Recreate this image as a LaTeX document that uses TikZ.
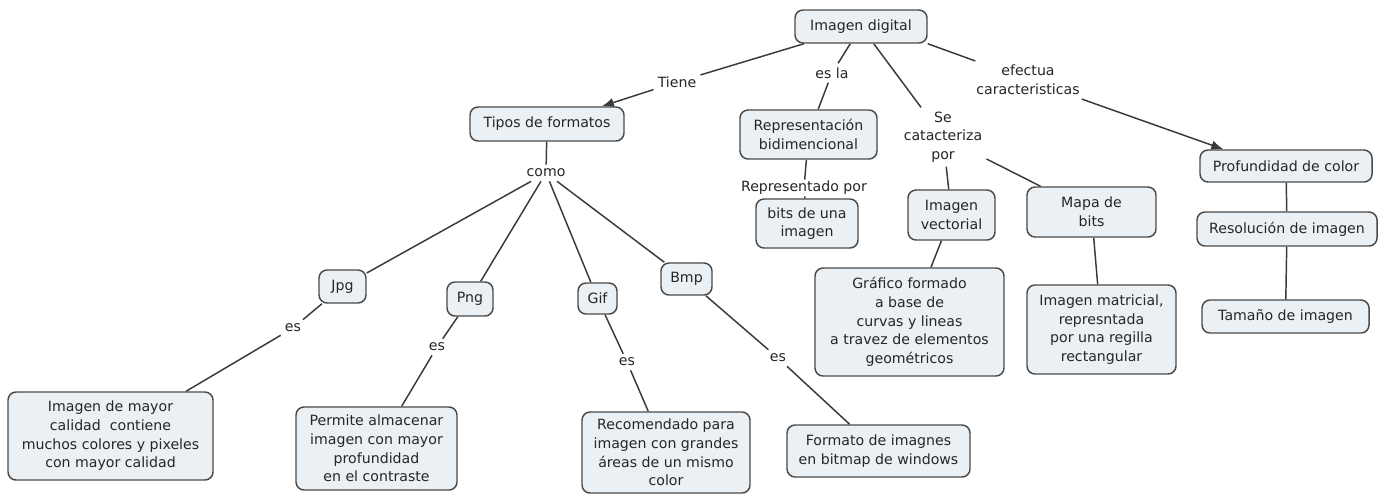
\documentclass[tikz,border=0pt]{standalone}
\usepackage{fontspec}
\setmainfont{DejaVu Sans}
\usetikzlibrary{arrows.meta,calc}
\definecolor{boxfill}{HTML}{EAF0F4}
\definecolor{boxline}{HTML}{4A4A4A}
\definecolor{linkc}{HTML}{3A3A3A}
\begin{document}
\begin{tikzpicture}[x=0.75pt,y=-0.75pt,
  every node/.style={font=\fontsize{10.6}{14}\selectfont, text=black!85},
  cbox/.style={draw=boxline, line width=1.1pt, fill=boxfill, rounded corners=6pt, align=center, inner sep=2pt},
  lbl/.style={align=center, inner sep=3pt},
  link/.style={draw=linkc, line width=1.1pt},
  arr/.style={link, -{Latex[length=9pt,width=7pt]}}]
\useasboundingbox[fill=white] (0,0) rectangle (1388,494);
% boxes
\node[cbox, minimum width=99pt, minimum height=24.75pt] (img) at (861,26.5) {Imagen digital};
\node[cbox, minimum width=115.5pt, minimum height=25.5pt] (tipos) at (547,124) {Tipos de formatos};
\node[cbox, minimum width=102.75pt, minimum height=36.75pt] (repr) at (808.5,134.5) {Representación\\bidimencional};
\node[cbox, minimum width=76.5pt, minimum height=36.75pt] (bits) at (807,223.5) {bits de una\\imagen};
\node[cbox, minimum width=65.25pt, minimum height=37.5pt] (vect) at (951.5,215) {Imagen\\vectorial};
\node[cbox, minimum width=96.75pt, minimum height=37.5pt] (mapa) at (1091.5,212) {Mapa de\\bits};
\node[cbox, minimum width=129pt, minimum height=24pt] (prof) at (1286,166) {Profundidad de color};
\node[cbox, minimum width=135pt, minimum height=25.5pt] (reso) at (1287,229) {Resolución de imagen};
\node[cbox, minimum width=125.25pt, minimum height=24.75pt] (tam) at (1285.5,316.5) {Tamaño de imagen};
\node[cbox, minimum width=141.75pt, minimum height=81pt] (graf) at (909.5,322) {Gráfico formado\\a base de\\curvas y lineas\\a travez de elementos\\geométricos};
\node[cbox, minimum width=111.75pt, minimum height=66.75pt] (matr) at (1101.5,329.5) {Imagen matricial,\\represntada\\por una regilla\\rectangular};
\node[cbox, minimum width=35.25pt, minimum height=24.75pt] (jpg) at (342.5,286.5) {Jpg};
\node[cbox, minimum width=34.5pt, minimum height=25.5pt] (png) at (470,299) {Png};
\node[cbox, minimum width=29.25pt, minimum height=23.25pt] (gif) at (597.5,298.5) {Gif};
\node[cbox, minimum width=38.25pt, minimum height=24pt] (bmp) at (686.5,279) {Bmp};
\node[cbox, minimum width=153.75pt, minimum height=66pt] (mayor) at (110.5,436) {Imagen de mayor\\calidad\ \ contiene\\muchos colores y pixeles\\con mayor calidad};
\node[cbox, minimum width=120.75pt, minimum height=62.25pt] (perm) at (376.5,448.5) {Permite almacenar\\imagen con mayor\\profundidad\\en el contraste};
\node[cbox, minimum width=126pt, minimum height=60.75pt] (reco) at (666,452.5) {Recomendado para\\imagen con grandes\\áreas de un mismo\\color};
\node[cbox, minimum width=137.25pt, minimum height=39pt] (form) at (878.5,451) {Formato de imagnes\\en bitmap de windows};
% linking phrases
\node[lbl] (tiene) at (677,82) {Tiene};
\node[lbl] (esla) at (832,73) {es la};
\node[lbl] (efec) at (1028,80) {efectua\\caracteristicas};
\node[lbl] (secat) at (943,137) {Se\\catacteriza\\por};
\node[lbl] (como) at (546,173) {como};
\node[lbl, inner sep=1pt] (reppor) at (804,188) {Representado por};
\node[lbl] (es1) at (293,328) {es};
\node[lbl] (es2) at (437,347) {es};
\node[lbl] (es3) at (627,362) {es};
\node[lbl] (es4) at (778,358) {es};
% connectors
\draw[link] (img) -- (tiene);
\draw[arr] (tiene) -- (tipos);
\draw[link] (img) -- (esla);
\draw[link] (esla) -- (repr);
\draw[link] (img.south east) -- (efec);
\draw[arr] (efec) -- ([xshift=-47pt]prof.north);
\draw[link] (img) -- (secat);
\draw[link] (secat) -- (vect);
\draw[link] (secat) -- (mapa);
\draw[link] (prof) -- (reso);
\draw[link] (reso) -- (tam);
\draw[link] (repr) -- (reppor);
\draw[link] (reppor) -- (bits);
\draw[link] (vect) -- (graf);
\draw[link] (mapa) -- (matr);
\draw[link] (tipos) -- (como);
\draw[link] (como) -- (jpg);
\draw[link] (como) -- (png);
\draw[link] (como) -- (gif);
\draw[link] (como) -- (bmp);
\draw[link] (jpg) -- (es1);
\draw[link] (es1) -- (mayor);
\draw[link] (png) -- (es2);
\draw[link] (es2) -- (perm);
\draw[link] (gif) -- (es3);
\draw[link] (es3) -- (reco);
\draw[link] (bmp) -- (es4);
\draw[link] (es4) -- (form);
\end{tikzpicture}
\end{document}
